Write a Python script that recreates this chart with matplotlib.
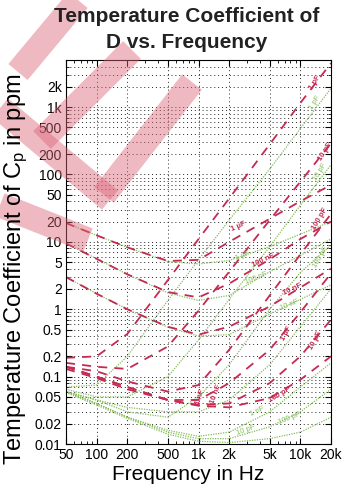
import numpy as np
import matplotlib
matplotlib.use("Agg")
import matplotlib.pyplot as plt
from matplotlib.ticker import FixedLocator, FixedFormatter, LogLocator, NullFormatter

plt.rcParams['font.family'] = ['Liberation Sans', 'DejaVu Sans']

# frequencies the curves are sampled at (Hz)
freq = [50, 100, 200, 500, 1000, 2000, 5000, 10000, 20000]

# red dashed curves (ppm)
red_1p = [0.19, 0.20, 0.43, 2.7, 11, 44, 280, 1150, 4500]
red_10p = [0.16, 0.14, 0.13, 0.28, 0.95, 3.6, 21, 78, 290]
red_100p = [0.14, 0.12, 0.085, 0.06, 0.075, 0.25, 1.6, 6.5, 26]
red_1u = [19, 12.5, 8.3, 5.2, 5.4, 10, 22, 40, 70]
red_100n = [9.5, 5.6, 3.3, 1.8, 1.5, 2.4, 5.5, 11, 20]
red_10n = [3.0, 1.7, 1.0, 0.55, 0.42, 0.55, 1.1, 2.1, 4.0]
red_1u_b = [0.14, 0.10, 0.07, 0.045, 0.045, 0.08, 0.25, 0.9, 3.4]
red_10u_b = [0.14, 0.10, 0.07, 0.045, 0.038, 0.04, 0.08, 0.2, 0.7]
red_100p_b = [0.13, 0.095, 0.065, 0.045, 0.037, 0.035, 0.048, 0.09, 0.2]

# green dotted curves (ppm)
green_1p = [0.07, 0.075, 0.2, 1.35, 5.4, 21, 120, 480, 1900]
green_10p = [0.065, 0.05, 0.05, 0.1, 0.35, 1.4, 8.5, 35, 140]
green_100p = [0.06, 0.045, 0.03, 0.025, 0.05, 0.15, 1.0, 3.5, 9]
green_1u = [19, 12.5, 8.3, 5.1, 4.7, 5.3, 8.5, 13, 20]
green_100n = [9.5, 5.6, 3.3, 1.75, 1.35, 1.6, 3.6, 6.3, 11]
green_10n = [3.0, 1.7, 1.0, 0.54, 0.4, 0.42, 0.85, 1.4, 2.3]
green_1u_b = [0.06, 0.045, 0.035, 0.03, 0.03, 0.045, 0.15, 0.55, 2.0]
green_1n = [0.06, 0.04, 0.025, 0.016, 0.013, 0.015, 0.03, 0.07, 0.16]
green_100p_b = [0.06, 0.04, 0.025, 0.015, 0.012, 0.012, 0.018, 0.03, 0.065]
green_10p_b = [0.058, 0.038, 0.024, 0.014, 0.011, 0.0105, 0.012, 0.015, 0.025]

red_curves = [red_1p, red_10p, red_100p, red_1u, red_100n, red_10n,
              red_1u_b, red_10u_b, red_100p_b]
green_curves = [green_1p, green_10p, green_100p, green_1u, green_100n, green_10n,
                green_1u_b, green_1n, green_100p_b, green_10p_b]

# curve labels: text, frequency, value, rotation
red_labels = [("1 pF", 14000, 2300, 58), ("10 pF", 17500, 220, 58),
              ("100 pF", 15500, 22, 60), ("1 µF", 2500, 17, 25),
              ("100 nF", 4300, 5.3, 25), ("10 nF", 8400, 2.0, 25),
              ("1 µF", 7300, 0.44, 62), ("10 µF", 14000, 0.34, 62),
              ("100 pF", 6300, 0.053, 30), ("1 nF", 1050, 0.05, 70),
              ("10 nF", 1500, 0.055, 70)]
green_labels = [("1 pF", 14000, 1150, 58), ("10 pF", 15500, 110, 58),
                ("100 pF", 16000, 6.0, 60), ("1 µF", 2700, 6.3, 22),
                ("100 nF", 3700, 2.9, 22), ("10 nF", 7900, 1.15, 22),
                ("1 nF", 3800, 0.03, 25), ("100 pF", 7900, 0.024, 22),
                ("10 pF", 2900, 0.016, 20)]

xticks = [50, 100, 200, 500, 1000, 2000, 5000, 10000, 20000]
xtick_labels = ['50', '100', '200', '500', '1k', '2k', '5k', '10k', '20k']
yticks = [0.01, 0.02, 0.05, 0.1, 0.2, 0.5, 1, 2, 5, 10, 20, 50, 100, 200, 500, 1000, 2000]
ytick_labels = ['0.01', '0.02', '0.05', '0.1', '0.2', '0.5', '1', '2', '5', '10', '20',
                '50', '100', '200', '500', '1k', '2k']

RED = '#c42a52'
GREEN = '#86bd5a'

fig = plt.figure(figsize=(3.45, 4.88), dpi=100)
ax = fig.add_axes([66 / 345, 44 / 488, 265 / 345, 384 / 488])
ax.set_xscale('log')
ax.set_yscale('log')

for vals in green_curves:
    ax.plot(freq, vals, color=GREEN, lw=0.9, ls=(0, (1, 1)))
for vals in red_curves:
    ax.plot(freq, vals, color=RED, lw=1.3, ls=(0, (5, 4)))

for txt, f, v, rot in red_labels:
    ax.text(f, v, txt, color=RED, fontsize=5.5, fontweight='bold', rotation=rot,
            ha='center', va='center', rotation_mode='anchor')
for txt, f, v, rot in green_labels:
    ax.text(f, v, txt, color=GREEN, fontsize=5.5, rotation=rot,
            ha='center', va='center', rotation_mode='anchor')

ax.set_xlim(50, 20000)
ax.set_ylim(0.01, 5000)
ax.xaxis.set_major_locator(FixedLocator(xticks))
ax.xaxis.set_major_formatter(FixedFormatter(xtick_labels))
ax.xaxis.set_minor_locator(LogLocator(base=10, subs=np.arange(2, 10)))
ax.xaxis.set_minor_formatter(NullFormatter())
ax.yaxis.set_major_locator(FixedLocator(yticks))
ax.yaxis.set_major_formatter(FixedFormatter(ytick_labels))
ax.yaxis.set_minor_locator(LogLocator(base=10, subs=np.arange(2, 10)))
ax.yaxis.set_minor_formatter(NullFormatter())

ax.grid(True, which='major', color='#222222', lw=0.7, ls=(0, (1, 3)))
ax.yaxis.grid(True, which='minor', color='#222222', lw=0.7, ls=(0, (1, 3)))
ax.tick_params(which='both', direction='in', top=True, right=True, labelsize=10, pad=3)
ax.tick_params(which='major', length=4)
ax.tick_params(which='minor', length=2)
for s in ax.spines.values():
    s.set_linewidth(0.8)

fig.text(187 / 345, 1 - 17 / 488, 'Temperature Coefficient of', ha='center', va='center',
         fontsize=15, fontweight='bold', color='#222222')
fig.text(187 / 345, 1 - 43 / 488, 'D vs. Frequency', ha='center', va='center',
         fontsize=15, fontweight='bold', color='#222222')
fig.text(16 / 345, 1 - 269 / 488, r'Temperature Coefficient of $\mathregular{C_p}$ in ppm',
         rotation=90, ha='center', va='center', fontsize=17)
fig.text(188 / 345, 1 - 475 / 488, 'Frequency in Hz', ha='center', va='center', fontsize=15)

# pink stamp bands across the upper left, in pixel coordinates
band_x0 = [78, 132, 0, 192, 0]
band_y0 = [0, 50, 108, 82, 205]
band_x1 = [18, 42, 110, 104, 88]
band_y1 = [72, 140, 200, 195, 240]
over = fig.add_axes([0, 0, 1, 1])
over.set_xlim(0, 345)
over.set_ylim(488, 0)
over.axis('off')
for x0, y0, x1, y1 in zip(band_x0, band_y0, band_x1, band_y1):
    over.plot([x0, x1], [y0, y1], color='#dc6478', alpha=0.45, lw=18,
              solid_capstyle='butt')

fig.savefig('out.png', dpi=100)
